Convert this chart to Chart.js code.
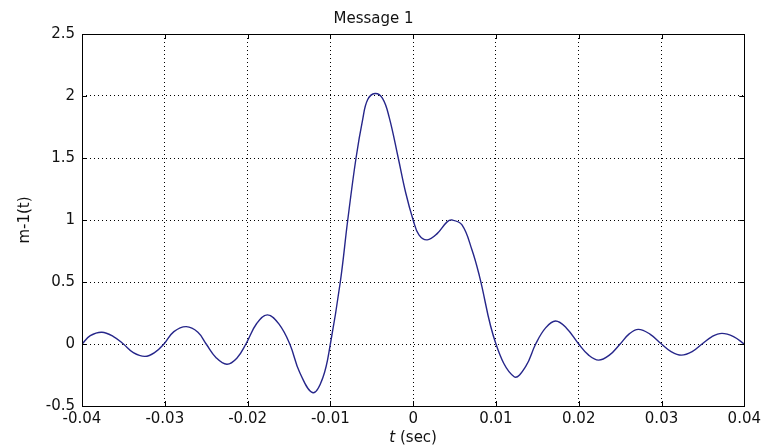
<!DOCTYPE html>
<html>
<head>
<meta charset="utf-8">
<script src="https://cdn.jsdelivr.net/npm/chart.js@4.4.1/dist/chart.umd.min.js"></script>
<style>
  html, body { margin: 0; padding: 0; background: #fff; }
  #wrap { width: 765px; height: 446px; }
</style>
</head>
<body>
<div id="wrap"><canvas id="msgChart" width="765" height="446"></canvas></div>
<script>
// valeurs (t en secondes, m-1(t))
const tValues = [
  -0.0400, -0.0390, -0.0376, -0.0362, -0.0350, -0.0338, -0.0324, -0.0312,
  -0.0301, -0.0289, -0.0274, -0.0260, -0.0250, -0.0238, -0.0225, -0.0213,
  -0.0202, -0.0189, -0.0176, -0.0162, -0.0149, -0.0137, -0.0121, -0.0109,
  -0.0100, -0.0088, -0.0079, -0.0069, -0.0061, -0.0055, -0.0046, -0.0037,
  -0.0029, -0.0018, -0.0009, 0.0000, 0.0007, 0.0017, 0.0029, 0.0041,
  0.0047, 0.0059, 0.0071, 0.0080, 0.0100, 0.0122, 0.0136, 0.0148,
  0.0160, 0.0172, 0.0185, 0.0200, 0.0212, 0.0224, 0.0237, 0.0250,
  0.0261, 0.0272, 0.0286, 0.0300, 0.0312, 0.0324, 0.0337, 0.0349,
  0.0361, 0.0373, 0.0387, 0.0400
];
const mValues = [
  0.000, 0.067, 0.095, 0.060, 0.000, -0.070, -0.100, -0.068,
  0.000, 0.100, 0.140, 0.095, 0.000, -0.110, -0.163, -0.115,
  0.000, 0.165, 0.235, 0.160, 0.000, -0.230, -0.393, -0.270,
  0.000, 0.500, 1.000, 1.500, 1.810, 1.970, 2.020, 1.980,
  1.830, 1.500, 1.220, 1.000, 0.880, 0.840, 0.890, 0.985,
  1.000, 0.960, 0.760, 0.550, 0.000, -0.264, -0.180, 0.000,
  0.130, 0.185, 0.130, 0.000, -0.090, -0.130, -0.090, 0.000,
  0.082, 0.118, 0.080, 0.000, -0.063, -0.090, -0.062, 0.000,
  0.060, 0.086, 0.060, 0.000
];

const xTicks = [-0.04, -0.03, -0.02, -0.01, 0, 0.01, 0.02, 0.03, 0.04];
const xTickLabels = ['-0.04', '-0.03', '-0.02', '-0.01', '0', '0.01', '0.02', '0.03', '0.04'];
const yTicks = [-0.5, 0, 0.5, 1, 1.5, 2, 2.5];
const yTickLabels = ['-0.5', '0', '0.5', '1', '1.5', '2', '2.5'];

const FONT = 'DejaVu Sans';
const points = tValues.map((t, i) => ({ x: t, y: mValues[i] }));

// cadre complet + petites graduations vers l'intérieur (style MATLAB)
const boxPlugin = {
  id: 'boxPlugin',
  afterDraw(chart) {
    const { ctx, chartArea: a, scales } = chart;
    const len = 5;
    ctx.save();
    ctx.strokeStyle = '#000';
    ctx.lineWidth = 1;
    ctx.beginPath();
    xTicks.forEach(v => {
      const px = Math.round(scales.x.getPixelForValue(v)) + 0.5;
      ctx.moveTo(px, a.bottom); ctx.lineTo(px, a.bottom - len);
      ctx.moveTo(px, a.top); ctx.lineTo(px, a.top + len);
    });
    yTicks.forEach(v => {
      const py = Math.round(scales.y.getPixelForValue(v)) + 0.5;
      ctx.moveTo(a.left, py); ctx.lineTo(a.left + len, py);
      ctx.moveTo(a.right, py); ctx.lineTo(a.right - len, py);
    });
    ctx.stroke();
    ctx.strokeRect(Math.round(a.left) + 0.5, Math.round(a.top) + 0.5,
                   Math.round(a.right - a.left), Math.round(a.bottom - a.top));

    // titre de l'axe x : "t" en italique
    const cx = (a.left + a.right) / 2;
    const y = 438;
    ctx.fillStyle = '#111';
    ctx.textBaseline = 'middle';
    ctx.textAlign = 'left';
    ctx.font = 'italic 15px "' + FONT + '"';
    const w1 = ctx.measureText('t').width;
    ctx.font = '15px "' + FONT + '"';
    const w2 = ctx.measureText(' (sec)').width;
    let x0 = cx - (w1 + w2) / 2;
    ctx.font = 'italic 15px "' + FONT + '"';
    ctx.fillText('t', x0, y);
    ctx.font = '15px "' + FONT + '"';
    ctx.fillText(' (sec)', x0 + w1, y);
    ctx.restore();
  }
};

new Chart(document.getElementById('msgChart'), {
  type: 'line',
  data: {
    datasets: [{
      data: points,
      borderColor: '#26268a',
      borderWidth: 1.4,
      pointRadius: 0,
      fill: false,
      tension: 0.4
    }]
  },
  options: {
    responsive: false,
    animation: false,
    events: [],
    layout: { padding: { left: 0, right: 18, top: 0, bottom: 0 } },
    plugins: {
      legend: { display: false },
      tooltip: { enabled: false },
      title: {
        display: true,
        text: 'Message 1',
        color: '#111',
        font: { family: FONT, size: 15, weight: 'normal' },
        padding: { top: 10, bottom: 6 }
      }
    },
    scales: {
      x: {
        type: 'linear',
        min: -0.04,
        max: 0.04,
        afterBuildTicks: s => { s.ticks = xTicks.map(v => ({ value: v })); },
        afterFit: s => { s.height = 40; },
        grid: { color: '#000', lineWidth: 1, drawTicks: false },
        border: { display: false, dash: [1, 3] },
        ticks: {
          autoSkip: false,
          maxRotation: 0,
          padding: 4,
          color: '#111',
          font: { family: FONT, size: 15 },
          callback: (v) => xTickLabels[xTicks.findIndex(t => Math.abs(t - v) < 1e-9)]
        }
      },
      y: {
        min: -0.5,
        max: 2.5,
        afterBuildTicks: s => { s.ticks = yTicks.map(v => ({ value: v })); },
        afterFit: s => { s.width = 82; },
        grid: { color: '#000', lineWidth: 1, drawTicks: false },
        border: { display: false, dash: [1, 3] },
        ticks: {
          autoSkip: false,
          padding: 7,
          color: '#111',
          font: { family: FONT, size: 15 },
          callback: (v) => yTickLabels[yTicks.findIndex(t => Math.abs(t - v) < 1e-9)]
        },
        title: {
          display: true,
          text: 'm-1(t)',
          color: '#111',
          font: { family: FONT, size: 15 },
          padding: { top: 16, bottom: 0 }
        }
      }
    }
  },
  plugins: [boxPlugin]
});
</script>
</body>
</html>
